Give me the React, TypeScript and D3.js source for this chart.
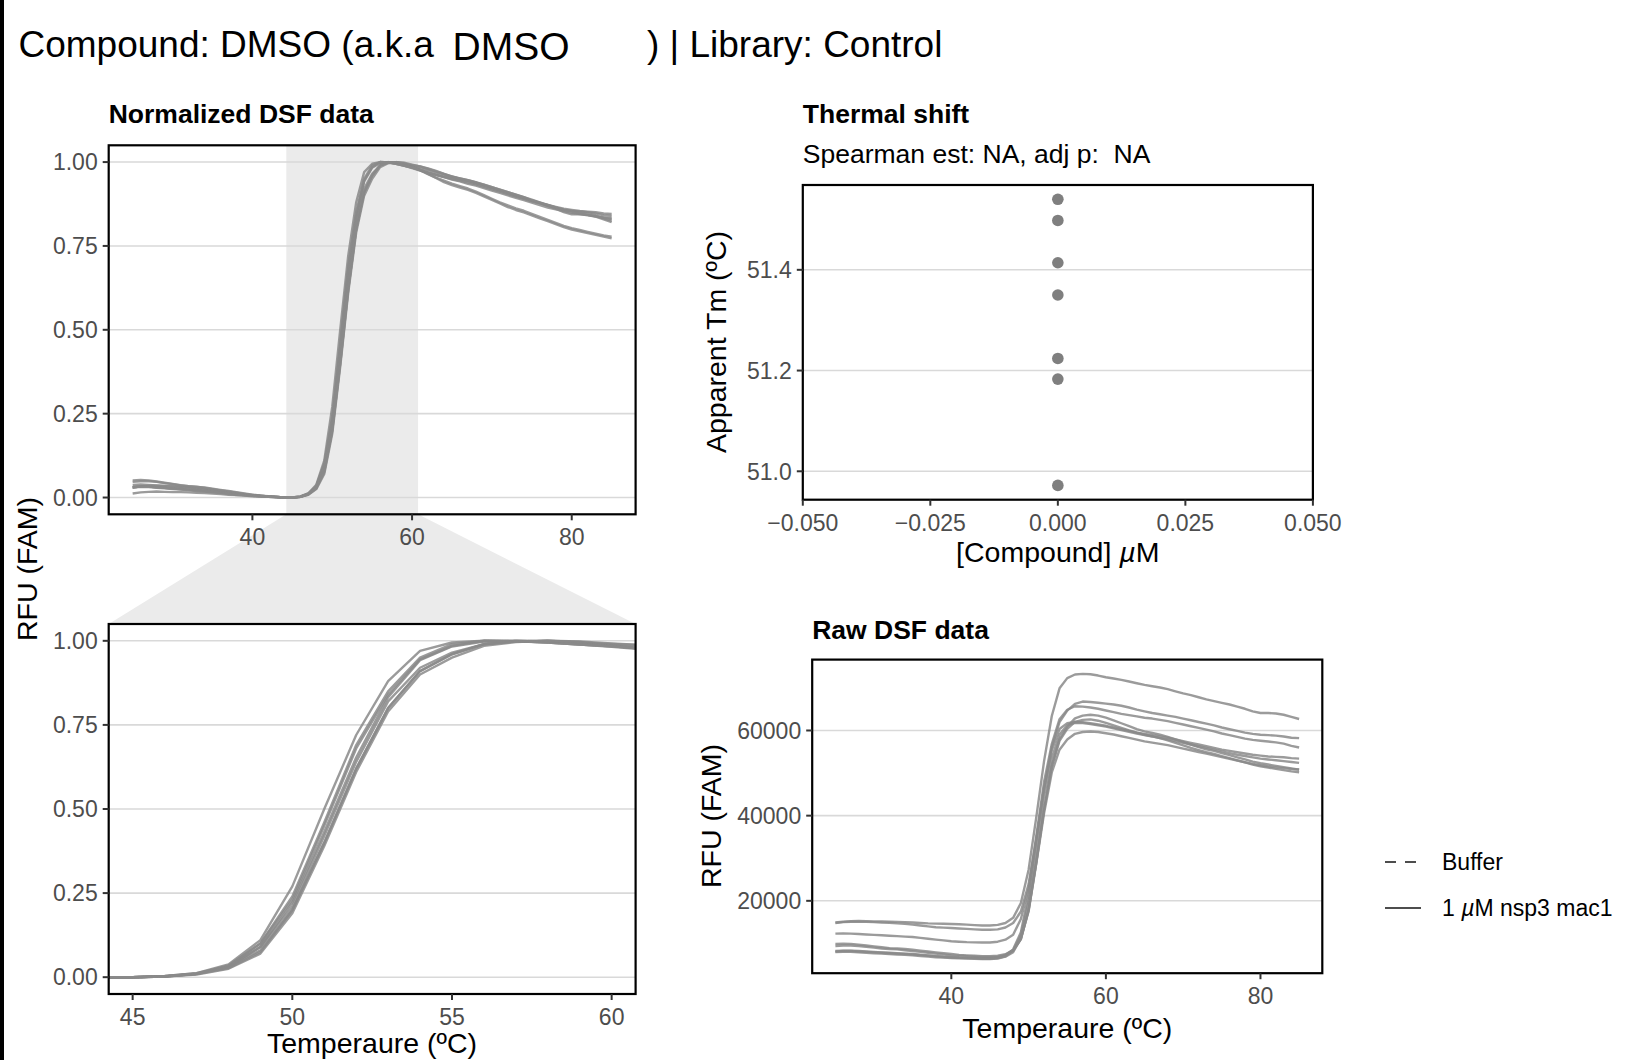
import React from "react";
import * as d3 from "d3";

// ---------- data ----------
const temps = [25,26,27,28,29,30,31,32,33,34,35,36,37,38,39,40,41,42,43,44,45,46,47,48,49,50,51,52,53,54,55,56,57,58,59,60,61,62,63,64,65,66,67,68,69,70,71,72,73,74,75,76,77,78,79,80,81,82,83,84,85];

const well1 = [14900,15100,15200,15250,15200,15150,15150,15100,15050,15000,14900,14800,14700,14650,14600,14550,14500,14400,14300,14200,14200,14350,
  14800,16000,19500,27300,39700,52800,63400,69900,72300,73150,
  73300,73200,72900,72500,72200,71900,71500,71100,70700,70400,70100,69700,69200,68700,68300,67800,67300,66900,66500,66100,65600,65100,64500,64100,64100,64000,63700,63200,62700];
const well2 = [14800,15000,15100,15100,15050,15000,14900,14850,14700,14600,14400,14200,14000,13800,13700,13600,13500,13400,13300,13200,13200,13300,
  13740,14800,17490,23920,34640,46430,56080,61980,64660,66260,
  66800,66700,66500,66300,66100,65800,65400,64900,64500,64100,63800,63500,63200,62800,62400,62000,61600,61200,60700,60300,59900,59500,59200,59000,58900,58800,58600,58300,58200];
const well3 = [12300,12350,12300,12200,12100,12000,11900,11800,11700,11600,11500,11300,11100,10900,10700,10500,10400,10300,10250,10200,10200,10400,
  10870,12030,15750,22970,35180,47940,56820,62650,64870,65700,
  65600,65400,65100,64700,64300,63900,63600,63300,63000,62800,62500,62200,61800,61400,61000,60600,60200,59800,59300,58900,58500,58100,57800,57600,57400,57200,56900,56400,56000];
const well4 = [9900,9950,9900,9700,9500,9300,9100,8900,8800,8700,8500,8300,8100,7900,7700,7500,7300,7200,7100,7000,7000,7100,
  7450,8420,10970,17770,29110,41590,51790,58030,60870,62850,
  63500,63700,63500,63000,62400,61700,61000,60300,59800,59400,59000,58500,57900,57300,56700,56100,55600,55200,54700,54200,53700,53200,52700,52300,52000,51700,51400,51100,50800];
const well5 = [9400,9500,9500,9400,9200,9000,8800,8700,8600,8400,8200,8000,7800,7600,7400,7200,7100,7000,6900,6800,6800,6900,
  7300,8310,10990,17960,29120,41400,51440,57580,60370,62040,
  62500,62600,62300,61800,61200,60600,60000,59500,59000,58600,58200,57700,57100,56500,55900,55400,54900,54500,54000,53500,53000,52500,52000,51600,51300,51000,50700,50400,50200];
const well6 = [8200,8300,8300,8200,8100,8000,7900,7800,7700,7600,7500,7350,7200,7050,6900,6800,6700,6650,6600,6500,6500,6650,
  7170,8610,12610,21490,34250,46460,55340,60340,61720,62000,
  61950,61700,61400,61100,60700,60300,59900,59500,59200,58900,58600,58300,57900,57500,57100,56700,56300,55900,55500,55200,54900,54600,54300,54100,53900,53800,53700,53500,53400];
const well7 = [8100,8200,8200,8100,8000,7900,7800,7700,7600,7500,7400,7250,7100,6950,6800,6700,6600,6550,6500,6400,6400,6550,
  6950,8340,11940,19700,31880,44630,53490,59030,61250,61800,
  61750,61500,61200,60900,60500,60100,59700,59300,58900,58600,58200,57900,57500,57100,56700,56300,55900,55500,55100,54700,54300,54000,53700,53400,53200,53000,52800,52600,52400];
const well8 = [7950,8050,8000,7900,7800,7700,7600,7500,7400,7300,7200,7050,6900,6750,6650,6550,6500,6450,6400,6350,6350,6450,
  6880,7950,11160,17560,28780,40530,50140,55480,57880,59220,
  59650,59750,59650,59350,59050,58650,58250,57850,57450,57150,56850,56550,56150,55750,55350,54950,54550,54150,53750,53350,52950,52550,52150,51850,51550,51350,51150,50950,50850];
const wells = [well1, well2, well3, well4, well5, well6, well7, well8];

const tmValues = [51.540, 51.498, 51.414, 51.350, 51.224, 51.183, 50.972];
const tmConc = [0, 0, 0, 0, 0, 0, 0];

const normTicks = [0, 0.25, 0.5, 0.75, 1];
const tempTicksFull = [40, 60, 80];
const tempTicksZoom = [45, 50, 55, 60];
const zoomWindow = [44.25, 60.75];
const tmTicks = [51.0, 51.2, 51.4];
const concTicks = [-0.05, -0.025, 0, 0.025, 0.05];
const concDomain = [-0.05, 0.05];
const rawTicks = [20000, 40000, 60000];
const legendLabels = ["Buffer", "1 \u00B5M nsp3 mac1"];

// ---------- helpers ----------
const FONT = "'Liberation Sans', Arial, Helvetica, sans-serif";
const CURVE = "#8a8a8a";

function expand(ext: number[], m = 0.05): [number, number] {
  const r = ext[1] - ext[0];
  return [ext[0] - r * m, ext[1] + r * m];
}
function normalize(arr: number[]) {
  const mn = d3.min(arr) as number;
  const mx = d3.max(arr) as number;
  return arr.map((v) => (v - mn) / (mx - mn));
}

type PanelProps = {
  id: string;
  x: d3.ScaleLinear<number, number>;
  y: d3.ScaleLinear<number, number>;
  xTicks: number[];
  yTicks: number[];
  xFmt: (v: number) => string;
  yFmt: (v: number) => string;
  under?: React.ReactNode;
  children?: React.ReactNode;
};

function Panel({ id, x, y, xTicks, yTicks, xFmt, yFmt, under, children }: PanelProps) {
  const [x0, x1] = x.range();
  const [yb, yt] = y.range();
  return (
    <g>
      <defs>
        <clipPath id={id}>
          <rect x={x0} y={yt} width={x1 - x0} height={yb - yt} />
        </clipPath>
      </defs>
      <rect x={x0} y={yt} width={x1 - x0} height={yb - yt} fill="#fff" />
      {under}
      {yTicks.map((t) => (
        <line key={"g" + t} x1={x0} x2={x1} y1={y(t)} y2={y(t)} stroke="#d9d9d9" strokeWidth={1.6} />
      ))}
      <g clipPath={`url(#${id})`}>{children}</g>
      <rect x={x0} y={yt} width={x1 - x0} height={yb - yt} fill="none" stroke="#000" strokeWidth={2.2} />
      {yTicks.map((t) => (
        <g key={"y" + t}>
          <line x1={x0 - 6} x2={x0} y1={y(t)} y2={y(t)} stroke="#333" strokeWidth={2} />
          <text x={x0 - 11} y={y(t)} dy="0.36em" textAnchor="end" fontSize={23} fill="#4d4d4d" fontFamily={FONT}>
            {yFmt(t)}
          </text>
        </g>
      ))}
      {xTicks.map((t) => (
        <g key={"x" + t}>
          <line x1={x(t)} x2={x(t)} y1={yb} y2={yb + 6} stroke="#333" strokeWidth={2} />
          <text x={x(t)} y={yb + 31} textAnchor="middle" fontSize={23} fill="#4d4d4d" fontFamily={FONT}>
            {xFmt(t)}
          </text>
        </g>
      ))}
    </g>
  );
}

export default function App() {
  const tempDomain = expand(d3.extent(temps) as number[]);
  const normDomain = expand([0, 1]);
  const normWells = wells.map(normalize);

  // top-left: normalized, full range
  const xA = d3.scaleLinear().domain(tempDomain).range([108.7, 635.6]);
  const yA = d3.scaleLinear().domain(normDomain).range([514.3, 145.3]);
  // bottom-left: normalized, zoomed
  const xB = d3.scaleLinear().domain(zoomWindow).range([108.7, 635.6]);
  const yB = d3.scaleLinear().domain(normDomain).range([994, 624]);
  // thermal shift
  const xC = d3.scaleLinear().domain(concDomain).range([802.8, 1312.9]);
  const yC = d3.scaleLinear().domain(expand(d3.extent(tmValues) as number[])).range([499.7, 185]);
  // raw
  const allRaw = wells.flat();
  const xD = d3.scaleLinear().domain(tempDomain).range([812.2, 1322.3]);
  const yD = d3.scaleLinear().domain(expand(d3.extent(allRaw) as number[])).range([973.2, 659.6]);

  const lineA = d3.line<number>().x((_, i) => xA(temps[i])).y((v) => yA(v));
  const lineB = d3.line<number>().x((_, i) => xB(temps[i])).y((v) => yB(v));
  const lineD = d3.line<number>().x((_, i) => xD(temps[i])).y((v) => yD(v));

  const f2 = d3.format(".2f");
  const f1 = d3.format(".1f");
  const f3 = d3.format(".3f");
  const f0 = d3.format("d");

  const trap = [
    [xA(zoomWindow[0]), 514.3],
    [xA(zoomWindow[1]), 514.3],
    [xB.range()[1], 624],
    [xB.range()[0], 624],
  ];

  const curveStyle = { fill: "none", stroke: CURVE, strokeWidth: 2.4, strokeOpacity: 0.85, strokeLinejoin: "round" as const };

  return (
    <svg width={1639} height={1060} style={{ position: "absolute", left: 0, top: 0, background: "#fff" }} fontFamily={FONT}>
      <rect x={0} y={0} width={1639} height={1060} fill="#fff" />
      <rect x={0} y={0} width={4} height={1060} fill="#000" />

      {/* main title */}
      <text x={18.5} y={57} fontSize={37} fill="#000">Compound: DMSO (a.k.a</text>
      <text x={452.5} y={60} fontSize={39} fill="#000">DMSO</text>
      <text x={647} y={57} fontSize={37} fill="#000">) | Library: Control</text>

      {/* zoom trapezoid */}
      <polygon points={trap.map((p) => p.join(",")).join(" ")} fill="#ebebeb" />

      {/* Normalized DSF data */}
      <text x={108.7} y={123} fontSize={26.5} fontWeight="bold" fill="#000">Normalized DSF data</text>
      <Panel
        id="clipA" x={xA} y={yA} xTicks={tempTicksFull} yTicks={normTicks} xFmt={f0} yFmt={f2}
        under={<rect x={xA(zoomWindow[0])} y={145.3} width={xA(zoomWindow[1]) - xA(zoomWindow[0])} height={369} fill="#ebebeb" />}
      >
        {normWells.map((w, i) => <path key={i} d={lineA(w) || ""} {...curveStyle} />)}
      </Panel>

      <Panel id="clipB" x={xB} y={yB} xTicks={tempTicksZoom} yTicks={normTicks} xFmt={f0} yFmt={f2}>
        {normWells.map((w, i) => <path key={i} d={lineB(w) || ""} {...curveStyle} />)}
      </Panel>
      <text transform="translate(37,569) rotate(-90)" textAnchor="middle" fontSize={28.5} fill="#000">RFU (FAM)</text>
      <text x={372} y={1053} textAnchor="middle" fontSize={28.5} fill="#000">Temperaure (ºC)</text>

      {/* Thermal shift */}
      <text x={802.8} y={123} fontSize={26.5} fontWeight="bold" fill="#000">Thermal shift</text>
      <text x={802.8} y={163} fontSize={26.5} fill="#000" style={{ whiteSpace: "pre" }}>{"Spearman est: NA, adj p:  NA"}</text>
      <Panel id="clipC" x={xC} y={yC} xTicks={concTicks} yTicks={tmTicks} xFmt={f3} yFmt={f1}>
        {tmValues.map((v, i) => <circle key={i} cx={xC(tmConc[i])} cy={yC(v)} r={5.8} fill="#7f7f7f" />)}
      </Panel>
      <text transform="translate(726,342) rotate(-90)" textAnchor="middle" fontSize={28.5} fill="#000">Apparent Tm (ºC)</text>
      <text x={1057.8} y={562} textAnchor="middle" fontSize={28.5} fill="#000">
        [Compound] <tspan fontStyle="italic">µ</tspan>M
      </text>

      {/* Raw DSF data */}
      <text x={812.2} y={638.5} fontSize={26.5} fontWeight="bold" fill="#000">Raw DSF data</text>
      <Panel id="clipD" x={xD} y={yD} xTicks={tempTicksFull} yTicks={rawTicks} xFmt={f0} yFmt={f0}>
        {wells.map((w, i) => <path key={i} d={lineD(w) || ""} {...curveStyle} />)}
      </Panel>
      <text transform="translate(721,816) rotate(-90)" textAnchor="middle" fontSize={28.5} fill="#000">RFU (FAM)</text>
      <text x={1067.3} y={1038} textAnchor="middle" fontSize={28.5} fill="#000">Temperaure (ºC)</text>

      {/* legend */}
      <g>
        <line x1={1385} x2={1421} y1={862} y2={862} stroke="#4d4d4d" strokeWidth={2.2} strokeDasharray="11,9" />
        <text x={1442} y={862} dy="0.36em" fontSize={23} fill="#000">{legendLabels[0]}</text>
        <line x1={1385} x2={1421} y1={908} y2={908} stroke="#4d4d4d" strokeWidth={2.2} />
        <text x={1442} y={908} dy="0.36em" fontSize={23} fill="#000">
          1 <tspan fontStyle="italic">µ</tspan>M nsp3 mac1
        </text>
      </g>
    </svg>
  );
}
